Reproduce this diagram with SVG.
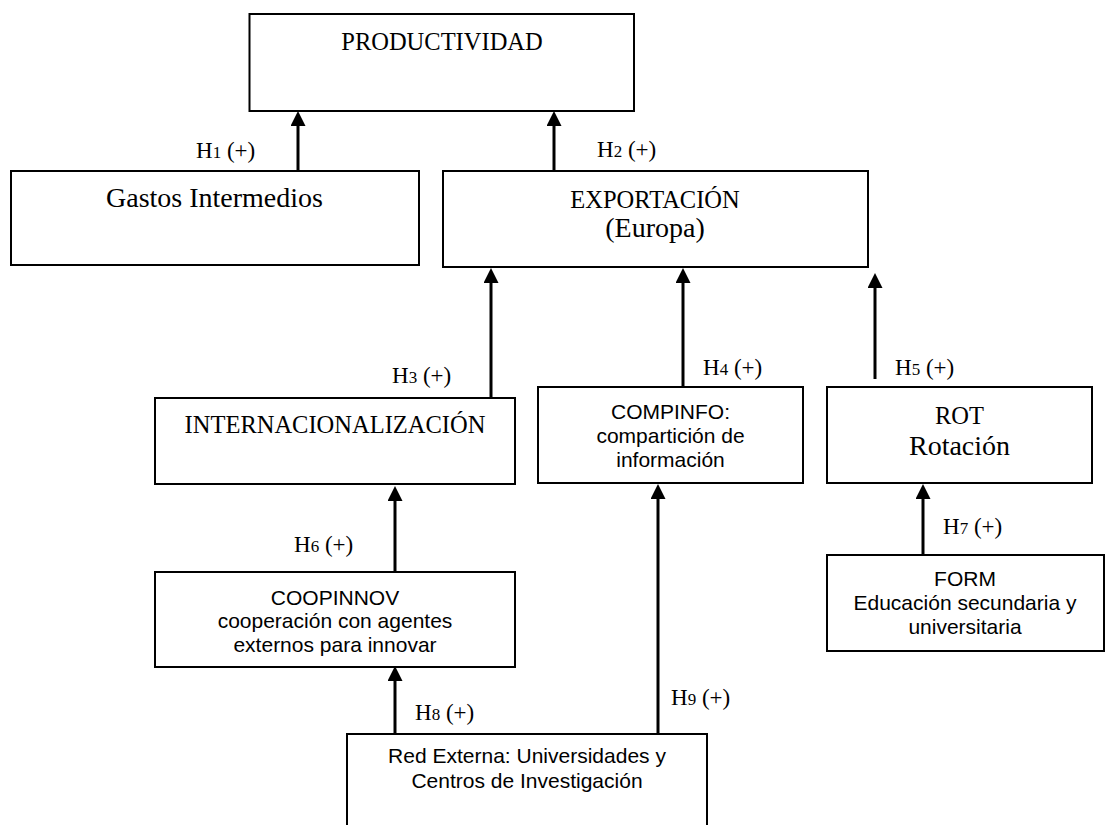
<svg xmlns="http://www.w3.org/2000/svg" width="1106" height="825" viewBox="0 0 1106 825">
  <style>
    .box { fill: #fff; stroke: #000; stroke-width: 2; }
    .link { fill: none; stroke: #000; stroke-width: 3; }
    .serif { font-family: "Liberation Serif", "DejaVu Serif", serif; fill: #000; text-anchor: middle; }
    .caps { font-size: 24.5px; }
    .mixed { font-size: 28px; }
    .sans { font-family: "Liberation Sans", Arial, sans-serif; font-size: 21px; fill: #000; text-anchor: middle; }
    .hyp { font-family: "Liberation Serif", "DejaVu Serif", serif; font-size: 23px; fill: #000; }
    .hyp .n { font-size: 17px; }
  </style>
  <defs>
    <marker id="arrow" viewBox="0 0 15 15" refX="3" refY="7.5" markerWidth="15" markerHeight="15" markerUnits="userSpaceOnUse" orient="auto">
      <path d="M0,0 L15,7.5 L0,15 z" fill="#000"/>
    </marker>
  </defs>

  <rect width="1106" height="825" fill="#fff"/>

  <!-- connectors (drawn first so boxes sit on top) -->
  <g id="connectors">
    <line class="link" x1="298" y1="171" x2="298" y2="123" marker-end="url(#arrow)"/>
    <line class="link" x1="554" y1="171" x2="554" y2="123" marker-end="url(#arrow)"/>
    <line class="link" x1="491" y1="398" x2="491" y2="280" marker-end="url(#arrow)"/>
    <line class="link" x1="683" y1="387" x2="683" y2="280" marker-end="url(#arrow)"/>
    <line class="link" x1="875" y1="379" x2="875" y2="285" marker-end="url(#arrow)"/>
    <line class="link" x1="395" y1="572" x2="395" y2="498" marker-end="url(#arrow)"/>
    <line class="link" x1="923" y1="555" x2="923" y2="496" marker-end="url(#arrow)"/>
    <line class="link" x1="395" y1="734" x2="395" y2="678" marker-end="url(#arrow)"/>
    <line class="link" x1="658" y1="734" x2="658" y2="496" marker-end="url(#arrow)"/>

    <text class="hyp" x="196" y="158">H<tspan class="n">1</tspan> (+)</text>
    <text class="hyp" x="597" y="157">H<tspan class="n">2</tspan> (+)</text>
    <text class="hyp" x="392" y="383">H<tspan class="n">3</tspan> (+)</text>
    <text class="hyp" x="703" y="375">H<tspan class="n">4</tspan> (+)</text>
    <text class="hyp" x="895" y="375">H<tspan class="n">5</tspan> (+)</text>
    <text class="hyp" x="294" y="552">H<tspan class="n">6</tspan> (+)</text>
    <text class="hyp" x="943" y="534">H<tspan class="n">7</tspan> (+)</text>
    <text class="hyp" x="415" y="720">H<tspan class="n">8</tspan> (+)</text>
    <text class="hyp" x="671" y="705">H<tspan class="n">9</tspan> (+)</text>
  </g>

  <g id="productividad">
    <rect class="box" x="249.5" y="14" width="384.5" height="97"/>
    <text class="serif caps" x="442" y="50">PRODUCTIVIDAD</text>
  </g>

  <g id="gastos">
    <rect class="box" x="11" y="171" width="408" height="94"/>
    <text class="serif mixed" x="214.5" y="207">Gastos Intermedios</text>
  </g>

  <g id="exportacion">
    <rect class="box" x="443" y="171" width="425" height="96"/>
    <text class="serif caps" x="655" y="208">EXPORTACIÓN</text>
    <text class="serif mixed" x="655" y="237">(Europa)</text>
  </g>

  <g id="internacionalizacion">
    <rect class="box" x="155" y="398" width="360" height="86"/>
    <text class="serif caps" x="335" y="433">INTERNACIONALIZACIÓN</text>
  </g>

  <g id="compinfo">
    <rect class="box" x="538" y="387" width="265" height="96"/>
    <text class="sans" x="670.5" y="419">COMPINFO:</text>
    <text class="sans" x="670.5" y="443">compartición de</text>
    <text class="sans" x="670.5" y="467">información</text>
  </g>

  <g id="rot">
    <rect class="box" x="827" y="387" width="265" height="96"/>
    <text class="serif caps" x="959.5" y="424">ROT</text>
    <text class="serif mixed" x="959.5" y="455">Rotación</text>
  </g>

  <g id="coopinnov">
    <rect class="box" x="155" y="572" width="360" height="95"/>
    <text class="sans" x="335" y="605">COOPINNOV</text>
    <text class="sans" x="335" y="628">cooperación con agentes</text>
    <text class="sans" x="335" y="652">externos para innovar</text>
  </g>

  <g id="form">
    <rect class="box" x="827" y="555" width="277" height="96"/>
    <text class="sans" x="965" y="586">FORM</text>
    <text class="sans" x="965" y="610">Educación secundaria y</text>
    <text class="sans" x="965" y="634">universitaria</text>
  </g>

  <g id="red-externa">
    <rect class="box" x="347" y="734" width="360" height="110"/>
    <text class="sans" x="527" y="763">Red Externa: Universidades y</text>
    <text class="sans" x="527" y="788">Centros de Investigación</text>
  </g>
</svg>
